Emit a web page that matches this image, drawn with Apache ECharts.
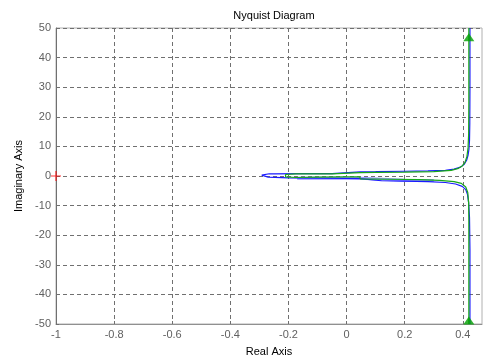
<!DOCTYPE html>
<html>
<head>
<meta charset="utf-8">
<script src="https://cdn.jsdelivr.net/npm/echarts@6/dist/echarts.min.js"></script>
<style>
html,body{margin:0;padding:0;background:#fff;}
#chart{width:484px;height:358px;}
</style>
</head>
<body>
<div id="chart"></div>
<script>
// ---- data ----
const titleText = 'Nyquist Diagram';
const xName = 'Real Axis';
const yName = 'Imaginary Axis';
const xTicks = [-1, -0.8, -0.6, -0.4, -0.2, 0, 0.2, 0.4];
const yTicks = [-50, -40, -30, -20, -10, 0, 10, 20, 30, 40, 50];

const blueRe = [0.4245, 0.4245, 0.424, 0.423, 0.421, 0.418, 0.413, 0.405, 0.392, 0.37, 0.34, 0.28, 0.2, 0.1, 0.047, 0.046, -0.05, -0.15, -0.25, -0.266, -0.292, -0.292, -0.27, -0.2, -0.1, 0.0, 0.046, 0.047, 0.12, 0.2, 0.28, 0.34, 0.375, 0.398, 0.41, 0.416, 0.42, 0.423, 0.4245, 0.4245];
const blueIm = [50, 30, 18, 12, 9, 7, 5.3, 4.0, 3.0, 2.3, 1.9, 1.7, 1.6, 1.45, 1.4, 0.8, 0.8, 0.8, 0.75, 0.75, 0.3, 0.2, -0.4, -0.6, -0.75, -0.85, -0.9, -1.5, -1.6, -1.7, -1.9, -2.2, -2.7, -3.5, -4.6, -6.2, -9, -14, -25, -50];

const shadeRe = [-0.17, 0.046, 0.047, 0.2, 0.3];
const shadeIm = [-0.75, -0.8, -1.3, -1.4, -1.5];

const greenRe = [0.4207, 0.4207, 0.42, 0.418, 0.414, 0.407, 0.398, 0.385, 0.36, 0.3, 0.2, 0.1, 0.047, 0.046, -0.05, -0.15, -0.175, -0.21, -0.21, -0.175, -0.1, 0.0, 0.046, 0.047, 0.15, 0.25, 0.32, 0.37, 0.395, 0.41, 0.417, 0.42, 0.4207, 0.4207];
const greenIm = [50, 25, 14, 9.5, 6.5, 4.5, 3.4, 2.6, 1.9, 1.5, 1.3, 1.2, 1.15, 0.8, 0.75, 0.75, 0.75, 0.5, -0.3, -0.5, -0.35, -0.3, -0.3, -1.0, -1.1, -1.2, -1.45, -1.9, -2.5, -3.7, -5.6, -9, -15, -50];

const arrowRe = [0.4207, 0.4207];
const arrowIm = [46.9, -48.8];
const critRe = [-1];
const critIm = [0];

// ---- chart ----
const zip = (a, b) => a.map((v, i) => [v, b[i]]);
const font = 'Liberation Sans, Arial, sans-serif';
const fmtX = v => {
  for (const t of xTicks) if (Math.abs(v - t) < 1e-6) return String(t);
  return '';
};
const chart = echarts.init(document.getElementById('chart'), null, {renderer: 'canvas'});
chart.setOption({
  animation: false,
  backgroundColor: '#fff',
  title: {
    text: titleText, left: 269, top: 5, textAlign: 'center',
    textStyle: {fontFamily: font, fontSize: 11, fontWeight: 'normal', color: '#000'}
  },
  grid: {left: 56, right: 2, top: 28, bottom: 34, containLabel: false, outerBoundsMode: 'none',
         show: true, borderColor: '#b0b0b0', borderWidth: 1, backgroundColor: '#fff'},
  xAxis: {
    type: 'value', min: -1, max: 0.466, interval: 0.2,
    name: xName, nameLocation: 'middle', nameGap: 22,
    nameTextStyle: {fontFamily: font, fontSize: 11, color: '#000'},
    axisLine: {show: true, onZero: false, lineStyle: {color: '#909090', width: 1}},
    axisTick: {show: true, inside: true, length: 3, lineStyle: {color: '#707070'}},
    axisLabel: {formatter: fmtX, fontFamily: font, fontSize: 11, color: '#606060', margin: 5, showMaxLabel: false},
    splitLine: {show: true, showMaxLine: false, lineStyle: {color: '#707070', type: [4, 3], width: 1}}
  },
  yAxis: {
    type: 'value', min: -50, max: 50, interval: 10,
    name: yName, nameLocation: 'middle', nameGap: 31, nameRotate: 90,
    nameTextStyle: {fontFamily: font, fontSize: 11, color: '#000'},
    axisLine: {show: true, onZero: false, lineStyle: {color: '#707070', width: 1}},
    axisTick: {show: true, inside: true, length: 3, lineStyle: {color: '#707070'}},
    axisLabel: {fontFamily: font, fontSize: 11, color: '#606060', margin: 5},
    splitLine: {show: true, lineStyle: {color: '#707070', type: [4, 3], width: 1}}
  },
  series: [
    {type: 'line', data: zip(shadeRe, shadeIm), showSymbol: false, clip: false, silent: true,
     lineStyle: {color: '#9a9aff', width: 3}, z: 2},
    {type: 'line', data: zip(blueRe, blueIm), showSymbol: false, clip: false,
     lineStyle: {color: '#1a1aff', width: 1.2}, z: 3},
    {type: 'line', data: zip(greenRe, greenIm), showSymbol: false, clip: false,
     lineStyle: {color: '#18a818', width: 1.2}, z: 4},
    {type: 'scatter', data: zip(arrowRe, arrowIm), symbol: 'triangle', symbolSize: [11, 8], clip: false,
     itemStyle: {color: '#00a000'}, z: 5},
    {type: 'scatter', data: zip(critRe, critIm), symbol: 'path://M4.4,0h1.2v10h-1.2z M0,4.4h10v1.2h-10z',
     symbolSize: 10, clip: false, itemStyle: {color: '#ff0000'}, z: 6}
  ]
});
</script>
</body>
</html>
